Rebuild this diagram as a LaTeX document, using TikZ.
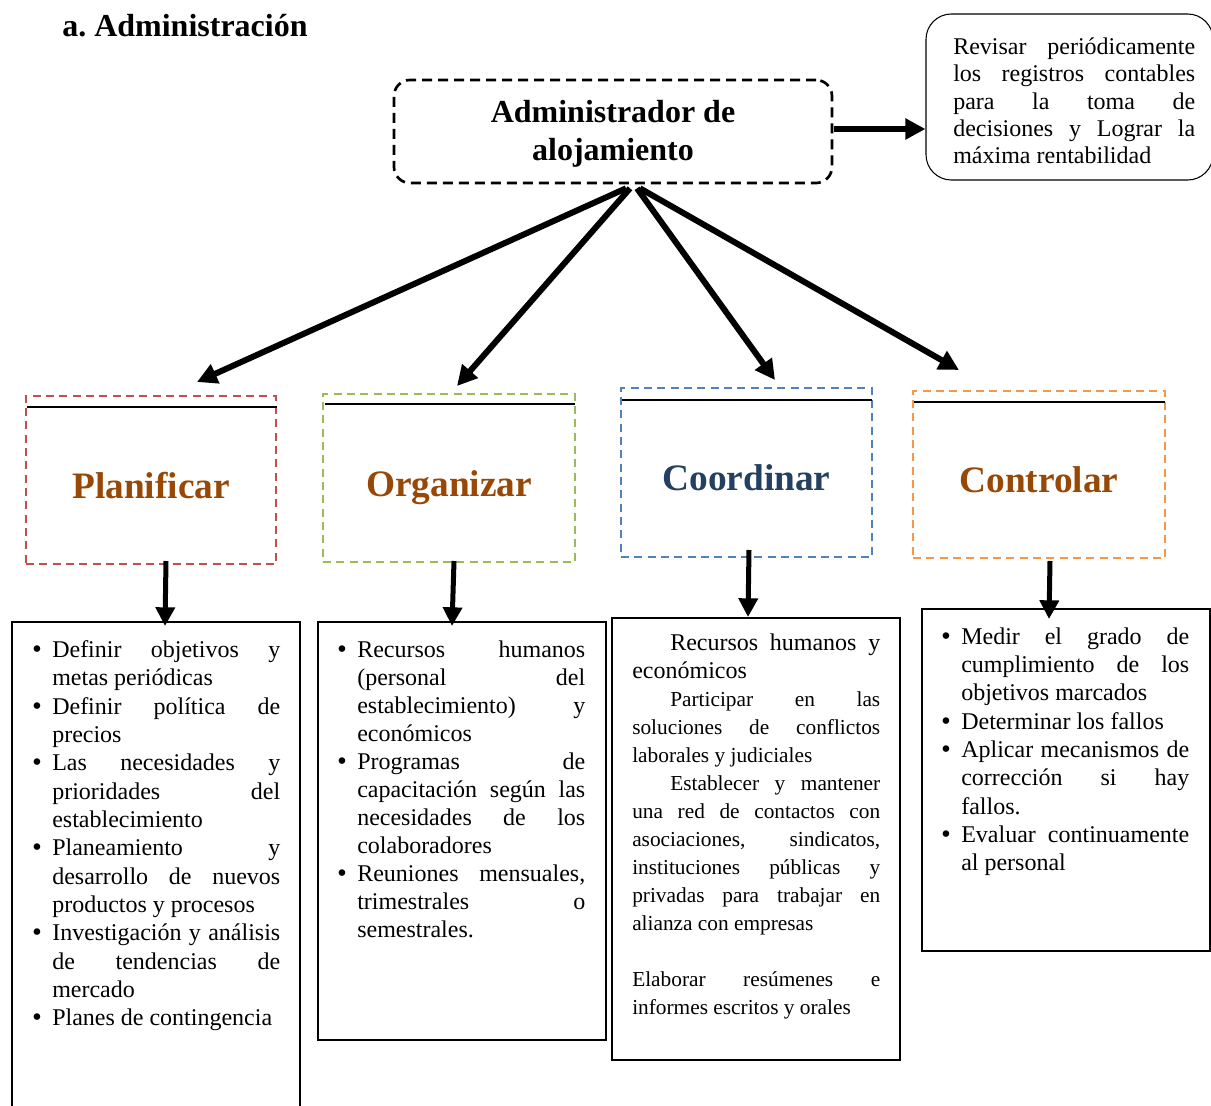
\documentclass[tikz,border=0pt]{standalone}
\usepackage{fontspec}
\setmainfont{Liberation Serif}
\newfontfamily\bulfont{DejaVu Sans}
\usetikzlibrary{arrows.meta}
\definecolor{planred}{HTML}{C0504D}
\definecolor{orggreen}{HTML}{9BBB59}
\definecolor{coblue}{HTML}{4F81BD}
\definecolor{ctorange}{HTML}{F79646}
\definecolor{browntxt}{HTML}{984806}
\definecolor{navytxt}{HTML}{244061}
\frenchspacing
\newcommand\mybul{\hbox to15pt{\hskip-1.5pt{\bulfont\fontsize{17}{21}\selectfont •}\hfil}}
\newcommand\jln[1]{\hbox to\hsize{\strut\spaceskip=0pt plus 1fil\relax#1}}
\newcommand\lln[1]{\hbox to\hsize{\strut#1\hfil}}
\newcommand\bjln[1]{\jln{\mybul#1}}
\newcommand\blln[1]{\lln{\mybul#1}}
\newcommand\ijln[1]{\jln{\hskip15pt#1}}
\newcommand\illn[1]{\lln{\hskip15pt#1}}
\newcommand\tblock[2]{\vbox{\hsize=#1\relax#2}}
\begin{document}
\begin{tikzpicture}[x=0.75pt,y=-0.75pt,
  catbox/.style={draw, line width=1.5pt, dash pattern=on 6pt off 4pt, inner sep=0pt},
  listbox/.style={draw, line width=1.5pt, inner sep=0pt},
  cattxt/.style={anchor=base, font=\bfseries\fontsize{28}{33}\selectfont, inner sep=0pt},
  bodytxt/.style={anchor=north west, inner sep=0pt, font=\fontsize{18}{21}\selectfont},
  rule/.style={line width=1.5pt},
  arr/.style={line width=4.5pt, -{Triangle[length=15pt,width=15pt]}},
  varr/.style={line width=3.75pt, -{Triangle[length=14pt,width=14pt]}}]
\fill[white] (0,0) rectangle (1211,1106);
\useasboundingbox (0,0) rectangle (1211,1106);

% title
\node[anchor=base west, inner sep=0pt, font=\bfseries\fontsize{24}{28}\selectfont] (title) at (62,37) {a. Administración};

% administrator
\node[draw, line width=2pt, dash pattern=on 7.5pt off 4.5pt, rounded corners=12pt,
  minimum width=328.5pt, minimum height=77.25pt, inner sep=0pt] (admin) at (613,131.5) {};
\node[align=center, inner sep=0pt, font=\bfseries\fontsize{24}{28.5}\selectfont] (admt) at (613,134) {Administrador de\\alojamiento};

% revisar
\node[draw, line width=0.8pt, rounded corners=19pt, minimum width=215.25pt, minimum height=124.5pt, inner sep=0pt] (rev) at (1069.5,97) {};
\node[anchor=north west, inner sep=0pt, font=\fontsize{18}{20.5}\selectfont] (revt) at (953,35) {\tblock{181.5pt}{%
\jln{Revisar periódicamente}
\jln{los registros contables}
\jln{para la toma de}
\jln{decisiones y Lograr la}
\lln{máxima rentabilidad}}};

% category boxes
\node[catbox, draw=planred, minimum width=187.5pt, minimum height=126pt] (plan) at (151,480) {};
\node[catbox, draw=orggreen, minimum width=189pt, minimum height=126pt] (org) at (449,478) {};
\node[catbox, draw=coblue, minimum width=188.25pt, minimum height=126.75pt] (coo) at (746.5,472.5) {};
\node[catbox, draw=ctorange, minimum width=189pt, minimum height=125.25pt] (con) at (1039,474.5) {};

\draw[rule] ([shift={(2,12)}]plan.north west) -- ([shift={(0,12)}]plan.north east);
\draw[rule] ([shift={(3,11)}]org.north west) -- ([shift={(-1,11)}]org.north east);
\draw[rule] ([shift={(2,13)}]coo.north west) -- ([shift={(-1,13)}]coo.north east);
\draw[rule] ([shift={(2,12)}]con.north west) -- ([shift={(-1,12)}]con.north east);

\node[cattxt, text=browntxt] (plant) at (151,498) {Planificar};
\node[cattxt, text=browntxt] (orgt) at (449,496.5) {Organizar};
\node[cattxt, text=navytxt] (coot) at (746.5,490.5) {Coordinar};
\node[cattxt, text=browntxt] (cont) at (1039,492) {Controlar};

% list boxes
\node[listbox, minimum width=216pt, minimum height=367.5pt] (b1) at (156,867) {};
\node[listbox, minimum width=216pt, minimum height=313.5pt] (b2) at (462,831) {};
\node[listbox, minimum width=216pt, minimum height=331.5pt] (b3) at (756,839) {};
\node[listbox, minimum width=216pt, minimum height=256.5pt] (b4) at (1066,780) {};

\node[bodytxt, font=\fontsize{18}{21.25}\selectfont] (b1t) at (32,637.4) {\tblock{186pt}{%
\bjln{Definir objetivos y}
\illn{metas periódicas}
\bjln{Definir política de}
\illn{precios}
\bjln{Las necesidades y}
\ijln{prioridades del}
\illn{establecimiento}
\bjln{Planeamiento y}
\ijln{desarrollo de nuevos}
\illn{productos y procesos}
\bjln{Investigación y análisis}
\ijln{de tendencias de}
\illn{mercado}
\blln{Planes de contingencia}}};

\node[bodytxt] (b2t) at (337,637.4) {\tblock{186pt}{%
\bjln{Recursos humanos}
\ijln{(personal del}
\ijln{establecimiento) y}
\illn{económicos}
\bjln{Programas de}
\ijln{capacitación según las}
\ijln{necesidades de los}
\illn{colaboradores}
\bjln{Reuniones mensuales,}
\ijln{trimestrales o}
\illn{semestrales.}}};

\node[bodytxt] (b3t) at (632,630.4) {\tblock{186pt}{%
\jln{\hskip28.5pt Recursos humanos y}
\lln{económicos}
\fontsize{16}{21}\selectfont
\jln{\hskip28.5pt Participar en las}
\jln{soluciones de conflictos}
\lln{laborales y judiciales}
\jln{\hskip28.5pt Establecer y mantener}
\jln{una red de contactos con}
\jln{asociaciones, sindicatos,}
\jln{instituciones públicas y}
\jln{privadas para trabajar en}
\lln{alianza con empresas}
\lln{}
\jln{Elaborar resúmenes e}
\lln{informes escritos y orales}}};

\node[bodytxt, font=\fontsize{18}{21.2}\selectfont] (b4t) at (941,624.4) {\tblock{186pt}{%
\bjln{Medir el grado de}
\ijln{cumplimiento de los}
\illn{objetivos marcados}
\blln{Determinar los fallos}
\bjln{Aplicar mecanismos de}
\ijln{corrección si hay}
\illn{fallos.}
\bjln{Evaluar continuamente}
\illn{al personal}}};

% connectors
\draw[arr] ([shift={(1,-2.5)}]admin.east) -- ([shift={(0,32)}]rev.west);
\draw[arr] ([shift={(13,4)}]admin.south) -- ([shift={(46,-13)}]plan.north);
\draw[arr] ([shift={(17,4)}]admin.south) -- ([shift={(8,-7)}]org.north);
\draw[arr] ([shift={(24,4)}]admin.south) -- ([shift={(28.5,-7)}]coo.north);
\draw[arr] ([shift={(27,4)}]admin.south) -- ([shift={(-80,-20)}]con.north);

\draw[varr] ([shift={(15,-4)}]plan.south) -- ([shift={(9,5)}]b1.north);
\draw[varr] ([shift={(5,-2)}]org.south) -- ([shift={(-10,5)}]b2.north);
\draw[varr] ([shift={(2.5,-8)}]coo.south) -- ([shift={(-8,0)}]b3.north);
\draw[varr] ([shift={(11,2)}]con.south) -- ([shift={(-17,11)}]b4.north);
\end{tikzpicture}
\end{document}
